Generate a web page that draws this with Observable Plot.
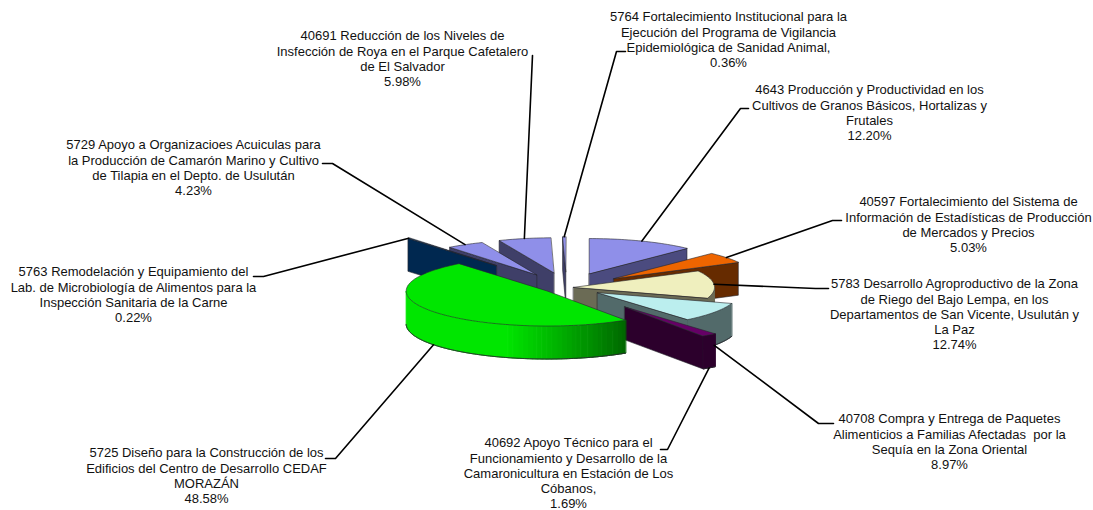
<!DOCTYPE html>
<html><head><meta charset="utf-8">
<script src="https://cdn.jsdelivr.net/npm/d3@7"></script>
<script src="https://cdn.jsdelivr.net/npm/@observablehq/plot@0.6"></script>
<style>html,body{margin:0;padding:0;background:#fff}svg{display:block}</style>
</head><body><div id="chart"></div>
<script>
// Data, clockwise from 12 o'clock
const codes = ["4643","40597","5783","40708","40692","5725","5763","5729","40691","5764"];
const shares = [12.20,5.03,12.74,8.97,1.69,48.58,0.22,4.23,5.98,0.36];
const shareLabels = ["12.20%","5.03%","12.74%","8.97%","1.69%","48.58%","0.22%","4.23%","5.98%","0.36%"];
const labelLines = [
 ["4643 Producción y Productividad en los","Cultivos de Granos Básicos, Hortalizas y","Frutales"],
 ["40597 Fortalecimiento del Sistema de","Información de Estadísticas de Producción","de Mercados y Precios"],
 ["5783 Desarrollo Agroproductivo de la Zona","de Riego del Bajo Lempa, en los","Departamentos de San Vicente, Usulután y","La Paz"],
 ["40708 Compra y Entrega de Paquetes","Alimenticios a Familias Afectadas  por la","Sequía en la Zona Oriental"],
 ["40692 Apoyo Técnico para el","Funcionamiento y Desarrollo de la","Camaronicultura en Estación de Los","Cóbanos,"],
 ["5725 Diseño para la Construcción de los","Edificios del Centro de Desarrollo CEDAF","MORAZÁN"],
 ["5763 Remodelación y Equipamiento del","Lab. de Microbiología de Alimentos para la","Inspección Sanitaria de la Carne"],
 ["5729 Apoyo a Organizacioes Acuiculas para","la Producción de Camarón Marino y Cultivo","de Tilapia en el Depto. de Usulután"],
 ["40691 Reducción de los Niveles de","Insfección de Roya en el Parque Cafetalero","de El Salvador"],
 ["5764 Fortalecimiento Institucional para la","Ejecución del Programa de Vigilancia","Epidemiológica de Sanidad Animal,"]
];
// Pie explosion, as a fraction of the radius
const explode = [.43,.42,.05,.265,.69,.17,.8,.42,.43,.45];
// Styles
const topFills = ["#8f8fe9","#ee6500","#efefbe","#bbeeee","#660066","#00e600","#003366","#8f8fe9","#8f8fe9","#8f8fe9"];
const sideFills = ["#4b4b7f","#662b00","#6b6b55","#526a6a","#2c002c","#00e600","#002850","#3f3f68","#3f3f68","#3f3f68"];
const drawOrder = [9,8,7,6,0,1,2,3,4,5];
// Label layout
const labelX = [869,968,954,949,568,206,133,193,402,728];
const labelY = [83,195,277,412,436,446,265,138,29,10];
const elbows = [
 [[740,108],[748,108]],[[832,220],[841,220]],[[815,288],[828,288]],[[818,423],[833,423]],
 [[667,449],[660,449]],[[335,458],[325,458]],[[263,276],[253,276]],[[332,163],[322,163]],
 [[532,55]],[[616,51],[625,51]]
];
// Pie geometry
const cx = 566, cy = 287, rx = 141, ry = 35, depth = 33;
const rad = d => d * Math.PI / 180;
const rim = (a, ox, oy, dz = 0) => [ox + rx * Math.sin(rad(a)), oy - ry * Math.cos(rad(a)) + dz];

let cum = 0;
const slices = shares.map((s, i) => {
  const a0 = cum * 3.6; cum += s; const a1 = cum * 3.6; const m = (a0 + a1) / 2;
  const [ox, oy] = [cx + explode[i] * rx * Math.sin(rad(m)), cy - explode[i] * ry * Math.cos(rad(m))];
  return {i, a0, a1, m, ox, oy};
});
const greenShade = d3.scaleLinear().domain([505, 560, 625]).range(["#00e600","#00b000","#006800"]).clamp(true);

const faces = [];
let fid = 0;
function addFace(pts, fill, stroke, sw = 0.6) {
  const id = fid++;
  for (const [x, y] of pts) faces.push({id, x, y, fill, stroke, sw});
}
for (const k of drawOrder) {
  const {i, a0, a1, ox, oy} = slices[k];
  const edge = "#26262e";
  const cut = a => { const p = rim(a, ox, oy), q = rim(a, ox, oy, depth);
    addFace([[ox, oy], p, q, [ox, oy + depth]], sideFills[i], edge); };
  if (Math.sin(rad(a0)) < -1e-6) cut(a0);
  if (Math.sin(rad(a1)) > 1e-6) cut(a1);
  // outer wall, front half only: runs of one colour become one polygon
  const r0 = Math.max(a0, 90), r1 = Math.min(a1, 270);
  if (r1 > r0) {
    const n = Math.ceil((r1 - r0) / 1), as = d3.range(n + 1).map(j => r0 + (r1 - r0) * j / n);
    const colorAt = x => k === 5 ? d3.color(greenShade(Math.round(x / 5) * 5)).formatHex() : sideFills[i];
    let run = [as[0]], runCol = colorAt(rim(as[0], ox, oy)[0]);
    const flush = () => {
      const top = run.map(a => rim(a, ox, oy)), bot = run.map(a => rim(a, ox, oy, depth)).reverse();
      addFace([...top, ...bot], runCol, runCol, 1);
    };
    for (let j = 1; j <= n; j++) {
      run.push(as[j]);
      const c = colorAt(rim(as[j], ox, oy)[0]);
      if (c !== runCol) { flush(); run = [as[j]]; runCol = c; }
    }
    if (run.length > 1) flush();
    const lower = as.map(a => rim(a, ox, oy, depth));
    addFace([...lower, ...lower.slice().reverse()], "none", edge);
  }
  // top
  const n = Math.max(2, Math.ceil((a1 - a0) / 1.5));
  const arc = d3.range(n + 1).map(j => rim(a0 + (a1 - a0) * j / n, ox, oy));
  addFace([[ox, oy], ...arc], topFills[i], edge);
}
// Leader lines
const leaders = [];
slices.forEach(({i, m, ox, oy}) => {
  const front = Math.cos(rad(m)) < 0;
  const start = rim(m, ox, oy, front ? depth : 0);
  for (const [x, y] of [start, ...elbows[i]]) leaders.push({i, x, y});
});
const labels = slices.map(({i}) => ({
  x: labelX[i], y: labelY[i], text: [...labelLines[i], shareLabels[i]].join("\n")
}));

const plot = Plot.plot({
  width: 1093, height: 510, margin: 0,
  x: {domain: [0, 1093], axis: null},
  y: {domain: [510, 0], axis: null},
  color: {type: "identity"},
  style: {background: "#fff"},
  marks: [
    Plot.line(faces, {x: "x", y: "y", z: "id", fill: "fill", stroke: "stroke", strokeWidth: "sw", curve: "linear-closed"}),
    Plot.line(leaders, {x: "x", y: "y", z: "i", stroke: "#000", strokeWidth: 1.6}),
    Plot.text(labels, {x: "x", y: "y", text: "text", lineAnchor: "top", textAnchor: "middle",
      lineHeight: 1.17, fontSize: 13, fontFamily: "Liberation Sans", fill: "#111"})
  ]
});
document.getElementById("chart").append(plot);
</script>
</body></html>
